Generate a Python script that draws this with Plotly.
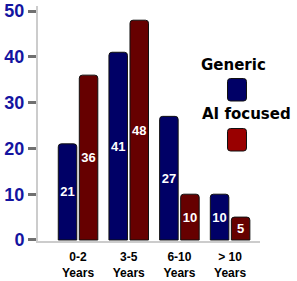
import plotly.graph_objects as go

categories = ["0-2<br>Years", "3-5<br>Years", "6-10<br>Years", "> 10<br>Years"]
generic = [21, 41, 27, 10]
ai_focused = [36, 48, 10, 5]
series_names = ["Generic", "AI focused"]
y_ticks = [0, 10, 20, 30, 40, 50]

NAVY = "#000066"
MAROON = "#660000"
MAROON_KEY = "#990000"

W, H = 297, 281
ML, MR, MT, MB = 38, 37, 6, 40

fig = go.Figure()
for name, vals, col in [(series_names[0], generic, NAVY), (series_names[1], ai_focused, MAROON)]:
    fig.add_trace(go.Bar(
        x=categories, y=vals, name=name,
        marker=dict(color=col, line=dict(color="#111111", width=1), cornerradius=3),
        text=[str(v) for v in vals], textposition="inside", insidetextanchor="middle",
        textfont=dict(family="Liberation Sans, Arial", size=13, color="white", weight="bold"),
        showlegend=False, cliponaxis=False,
    ))

pw = W - ML - MR
ph = H - MT - MB

def px(x):
    return (x - ML) / pw

def py(y):
    return (H - MB - y) / ph

def rrect(x0, y0, x1, y1, r=3):
    X0, X1 = px(x0), px(x1)
    Y0, Y1 = py(y1), py(y0)
    rx, ry = r / pw, r / ph
    return (f"M {X0+rx},{Y1} L {X1-rx},{Y1} Q {X1},{Y1} {X1},{Y1-ry} "
            f"L {X1},{Y0+ry} Q {X1},{Y0} {X1-rx},{Y0} L {X0+rx},{Y0} "
            f"Q {X0},{Y0} {X0},{Y0+ry} L {X0},{Y1-ry} Q {X0},{Y1} {X0+rx},{Y1} Z")

legend_font = dict(family="DejaVu Sans", size=15, color="black", weight="bold")
fig.add_annotation(text=series_names[0], x=px(268), y=py(65), xref="paper", yref="paper",
                   showarrow=False, font=legend_font, xanchor="right", yanchor="middle")
fig.add_annotation(text=series_names[1], x=px(292.5), y=py(114.5), xref="paper", yref="paper",
                   showarrow=False, font=legend_font, xanchor="right", yanchor="middle")
fig.add_shape(type="path", path=rrect(227.5, 78.5, 246.5, 101), xref="paper", yref="paper",
              fillcolor=NAVY, line=dict(color="#111111", width=1))
fig.add_shape(type="path", path=rrect(227.5, 128.5, 246.5, 151), xref="paper", yref="paper",
              fillcolor=MAROON_KEY, line=dict(color="#111111", width=1))

fig.update_layout(
    width=W, height=H, autosize=False,
    margin=dict(l=ML, r=MR, t=MT, b=MB, autoexpand=False),
    paper_bgcolor="white", plot_bgcolor="white",
    barmode="group", bargap=0.17, bargroupgap=0.12,
    uniformtext=dict(mode="show", minsize=13),
    showlegend=False,
)
fig.update_xaxes(
    type="category", range=[-0.79, 3.59], automargin=False,
    showline=True, linecolor="#cccccc", linewidth=2,
    ticks="", showgrid=False, zeroline=False, ticklabelstandoff=4,
    tickfont=dict(family="Liberation Sans, Arial", size=12, color="black", weight="bold"),
)
fig.update_yaxes(
    range=[-0.22, 51.1], tickvals=y_ticks, automargin=False,
    showline=True, linecolor="#cccccc", linewidth=2,
    ticks="outside", ticklen=8, tickwidth=3, tickcolor="#707070",
    showgrid=False, zeroline=False,
    tickfont=dict(family="Liberation Sans, Arial", size=18, color="#1414a0", weight="bold"),
)

fig.write_html("out.html", config={"displayModeBar": False},
               post_script="document.body.style.margin='0';document.body.style.overflow='hidden';")
